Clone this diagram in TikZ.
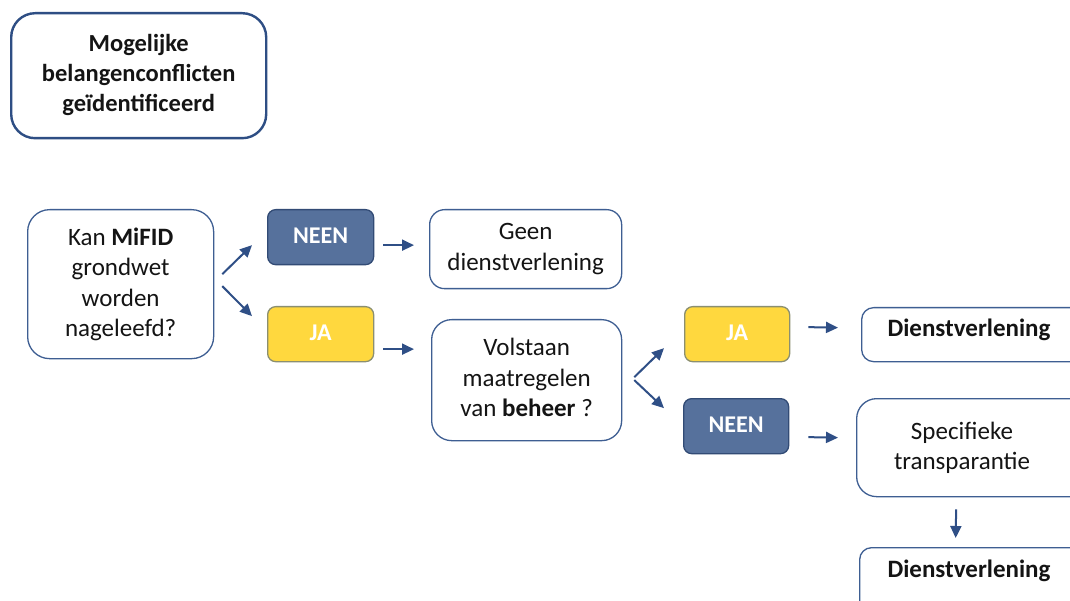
\documentclass[tikz,border=0pt]{standalone}
\usepackage{fontspec}
\setmainfont{Carlito}
\usetikzlibrary{arrows.meta,calc}
\definecolor{bordc}{RGB}{62,94,146}
\definecolor{topbord}{RGB}{46,78,132}
\definecolor{neenc}{RGB}{86,113,156}
\definecolor{jac}{RGB}{255,216,62}
\definecolor{arrc}{RGB}{47,79,134}
\definecolor{txt}{RGB}{20,20,20}
\tikzset{
  box/.style={draw=bordc, line width=1.3pt, fill=white, anchor=north west, inner sep=0pt,
    align=center, text=txt, font=\fontsize{25}{30.5}\selectfont},
  neenbox/.style={box, fill=neenc, draw=bordc!80!black, rounded corners=8pt, text=white, font=\fontsize{24}{30}\selectfont\bfseries},
  jabox/.style={box, fill=jac, draw=bordc!60!jac, rounded corners=8pt, text=white, font=\fontsize{24}{30}\selectfont\bfseries},
  lbl/.style={anchor=center, text=txt, align=center, inner sep=0pt, font=\fontsize{25}{30.5}\selectfont},
  arr/.style={draw=arrc, line width=2pt, -{Triangle[length=12pt,width=11pt]}},
}
\begin{document}
\begin{tikzpicture}[x=1pt,y=-1pt]
\useasboundingbox (0,0) rectangle (1070,601);
\fill[white] (0,0) rectangle (1070,601);
% top box
\node[box, draw=topbord, line width=2.4pt, rounded corners=24pt, minimum width=255pt, minimum height=125pt, font=\fontsize{24.5}{30}\selectfont\bfseries] (top) at (10,12) {\raisebox{2pt}{\begin{tabular}{@{}c@{}}Mogelijke\\belangenconflicten\\geïdentificeerd\end{tabular}}};
% first question
\node[box, rounded corners=22pt, minimum width=186pt, minimum height=149pt] (kan) at (27,209) {Kan \textbf{MiFID}\\grondwet\\worden\\nageleefd?};
\node[neenbox, minimum width=106pt, minimum height=55pt] (neen1) at (267,209) {\raisebox{3pt}{NEEN}};
\node[jabox, minimum width=106pt, minimum height=55pt] (ja1) at (267,306) {\raisebox{3pt}{JA}};
\node[box, rounded corners=15pt, minimum width=192pt, minimum height=79pt] (geen) at (429,209) {Geen\\dienstverlening};
\node[box, rounded corners=20pt, minimum width=190pt, minimum height=121pt] (volstaan) at (431,319) {\raisebox{7pt}{\begin{tabular}{@{}c@{}}Volstaan\\maatregelen\\van \textbf{beheer} ?\end{tabular}}};
\node[jabox, minimum width=105pt, minimum height=55pt] (ja2) at (684,306) {\raisebox{3pt}{JA}};
\node[neenbox, minimum width=105pt, minimum height=55pt] (neen2) at (683,398) {\raisebox{3pt}{NEEN}};
\node[box, rounded corners=12pt, minimum width=230pt, minimum height=54pt] (dienst1) at (861,307) {};
\node[lbl, font=\fontsize{25}{30}\selectfont\bfseries] (t1) at (969,330) {Dienstverlening};
\node[box, rounded corners=20pt, minimum width=235pt, minimum height=98pt] (spec) at (856,398) {};
\node[lbl] (t2) at (962,448) {Specifieke\\transparantie};
\node[box, rounded corners=12pt, minimum width=232pt, minimum height=70pt] (dienst2) at (859,547) {};
\node[lbl, font=\fontsize{25}{30}\selectfont\bfseries] (t3) at (969,571) {Dienstverlening};
% arrows
\draw[arr] ($(kan.east)+(8,-10)$) -- ($(neen1.west)+(-15,8)$);
\draw[arr] ($(kan.east)+(8,2)$) -- ($(ja1.west)+(-15,-18)$);
\draw[arr] ($(neen1.east)+(9,8)$) -- ($(geen.west)+(-15,-4)$);
\draw[arr] ($(ja1.east)+(9,15)$) -- ($(volstaan.west)+(-17,-31)$);
\draw[arr] ($(volstaan.east)+(12,-3)$) -- ($(ja2.west)+(-20,14)$);
\draw[arr] ($(volstaan.east)+(12,0)$) -- ($(neen2.west)+(-19,-18)$);
\draw[arr] ($(ja2.east)+(18,-7)$) -- ($(dienst1.west)+(-23,-7)$);
\draw[arr] ($(neen2.east)+(19,11)$) -- ($(spec.west)+(-18,-10)$);
\draw[arr] ($(spec.south)+(-18,12)$) -- ($(dienst2.north)+(-20,-9)$);
\end{tikzpicture}
\end{document}
